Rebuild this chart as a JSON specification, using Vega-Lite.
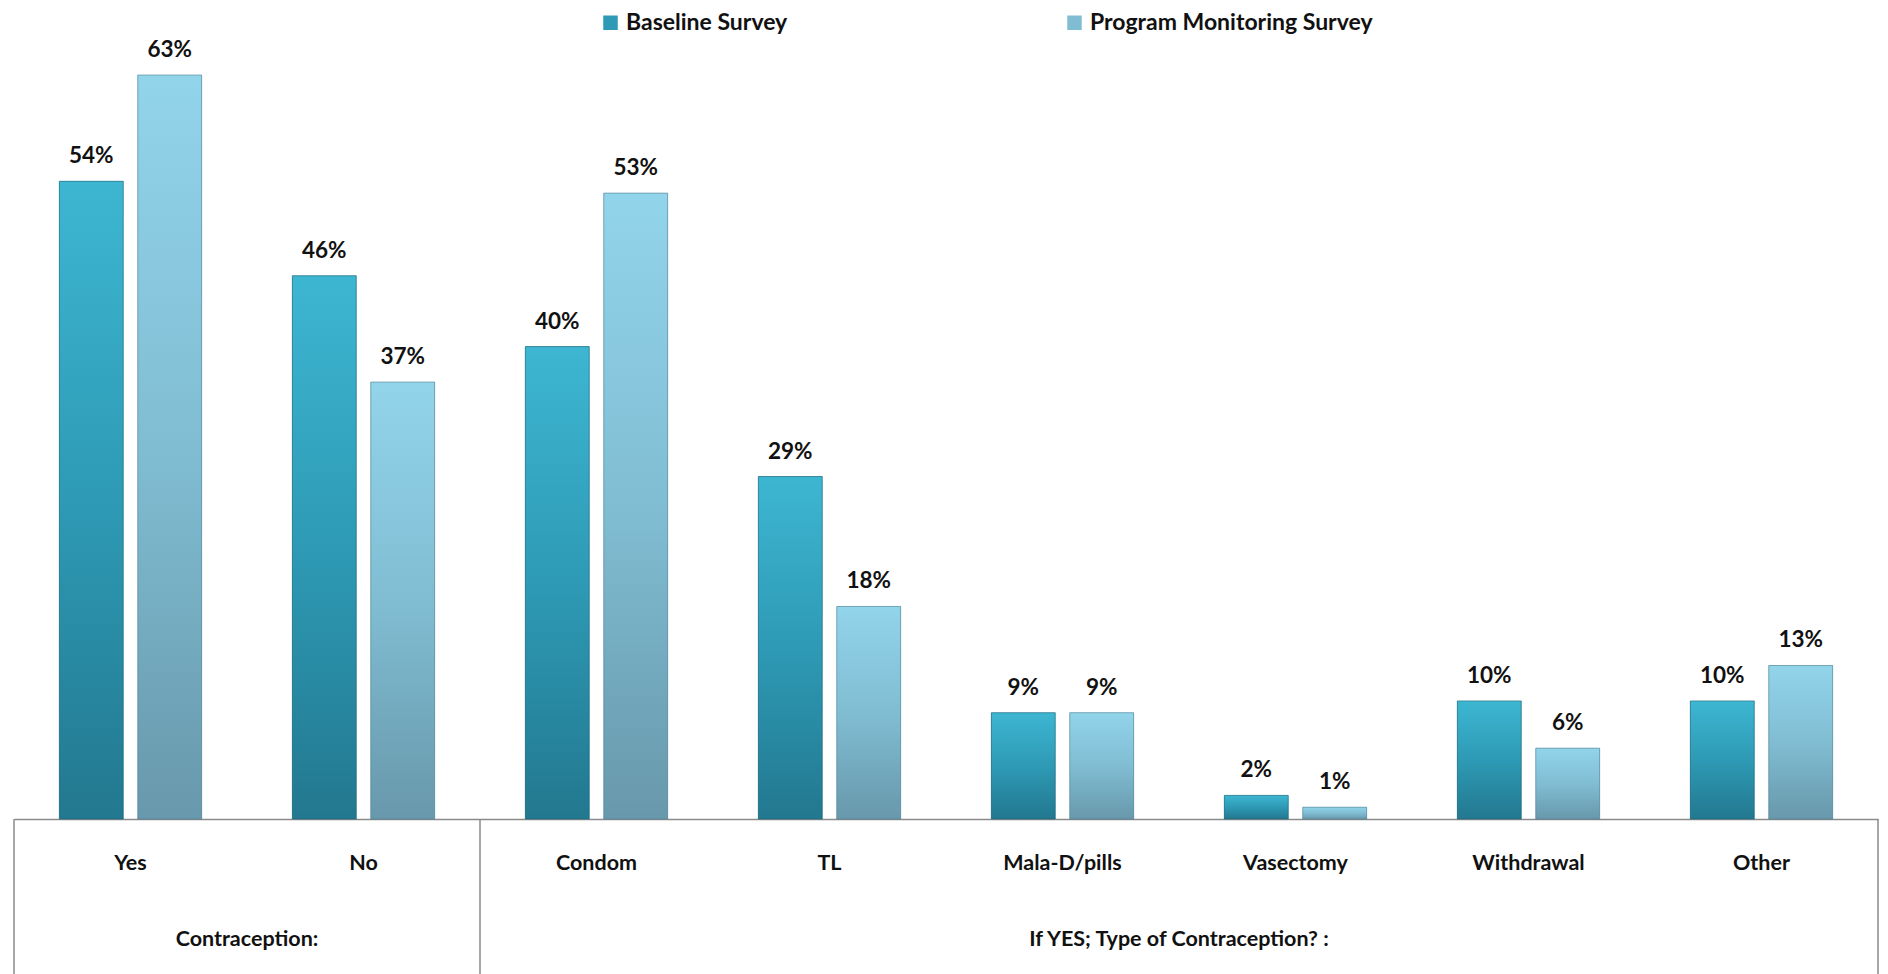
{
  "$schema": "https://vega.github.io/schema/vega-lite/v6.json",
  "autosize": "none",
  "width": 1864,
  "height": 819,
  "padding": {"left": 14, "top": 0, "right": 10, "bottom": 155},
  "background": "white",
  "config": {
    "view": {"stroke": null},
    "font": "Lato",
    "text": {"font": "Lato", "fontWeight": "bold", "fontSize": 22.5, "color": "#111111"}
  },
  "datasets": {
    "survey": [
      {"category": "Yes", "survey": "Baseline Survey", "share": 0.54},
      {"category": "Yes", "survey": "Program Monitoring Survey", "share": 0.63},
      {"category": "No", "survey": "Baseline Survey", "share": 0.46},
      {"category": "No", "survey": "Program Monitoring Survey", "share": 0.37},
      {"category": "Condom", "survey": "Baseline Survey", "share": 0.40},
      {"category": "Condom", "survey": "Program Monitoring Survey", "share": 0.53},
      {"category": "TL", "survey": "Baseline Survey", "share": 0.29},
      {"category": "TL", "survey": "Program Monitoring Survey", "share": 0.18},
      {"category": "Mala-D/pills", "survey": "Baseline Survey", "share": 0.09},
      {"category": "Mala-D/pills", "survey": "Program Monitoring Survey", "share": 0.09},
      {"category": "Vasectomy", "survey": "Baseline Survey", "share": 0.02},
      {"category": "Vasectomy", "survey": "Program Monitoring Survey", "share": 0.01},
      {"category": "Withdrawal", "survey": "Baseline Survey", "share": 0.10},
      {"category": "Withdrawal", "survey": "Program Monitoring Survey", "share": 0.06},
      {"category": "Other", "survey": "Baseline Survey", "share": 0.10},
      {"category": "Other", "survey": "Program Monitoring Survey", "share": 0.13}
    ],
    "groups": [
      {"category": "Yes", "group": "Contraception:"},
      {"category": "Mala-D/pills", "group": "If YES; Type of Contraception? :"}
    ],
    "leftEdges": [
      {"category": "Yes"},
      {"category": "Condom"}
    ],
    "rightEdges": [
      {"category": "Other"}
    ]
  },
  "layer": [
    {
      "data": {"name": "survey"},
      "mark": {"type": "bar"},
      "encoding": {
        "x": {
          "field": "category",
          "type": "nominal",
          "sort": null,
          "scale": {"paddingInner": 0, "paddingOuter": 0},
          "axis": {
            "title": null,
            "labelAngle": 0,
            "ticks": false,
            "domain": true,
            "domainColor": "#8a8a8a",
            "domainWidth": 1.5,
            "labelFont": "Lato",
            "labelFontWeight": "bold",
            "labelFontSize": 21.5,
            "labelColor": "#111111",
            "labelBaseline": "middle",
            "labelPadding": 44
          }
        },
        "xOffset": {
          "field": "survey",
          "type": "nominal",
          "scale": {"paddingInner": 0.185, "paddingOuter": 0.578}
        },
        "y": {
          "field": "share",
          "type": "quantitative",
          "scale": {"domain": [0, 0.6935], "nice": false, "zero": true},
          "axis": null
        },
        "color": {
          "field": "survey",
          "type": "nominal",
          "scale": {
            "domain": ["Baseline Survey", "Program Monitoring Survey"],
            "range": ["#2E9AB5", "#80BDD3"]
          },
          "legend": {
            "title": null,
            "orient": "none",
            "legendX": 585,
            "legendY": 11,
            "direction": "horizontal",
            "columns": 2,
            "columnPadding": 275,
            "symbolType": "square",
            "symbolSize": 210,
            "symbolStrokeWidth": 0,
            "labelFont": "Lato",
            "labelFontWeight": "bold",
            "labelFontSize": 23,
            "labelColor": "#111111",
            "labelOffset": 4,
            "labelLimit": 400,
            "padding": 0
          }
        }
      }
    },
    {
      "data": {"name": "survey"},
      "transform": [{"filter": "datum.survey === 'Baseline Survey'"}],
      "mark": {
        "type": "bar",
        "stroke": "#1d6476",
        "strokeOpacity": 0.6,
        "strokeWidth": 1,
        "color": {"gradient": "linear", "x1": 0, "y1": 0, "x2": 0, "y2": 1,
          "stops": [{"offset": 0, "color": "#3DB6D2"}, {"offset": 0.5, "color": "#2E9AB5"}, {"offset": 1, "color": "#22788F"}]}
      },
      "encoding": {
        "x": {"field": "category", "type": "nominal", "sort": null},
        "xOffset": {"field": "survey", "type": "nominal"},
        "y": {"field": "share", "type": "quantitative"}
      }
    },
    {
      "data": {"name": "survey"},
      "transform": [{"filter": "datum.survey === 'Program Monitoring Survey'"}],
      "mark": {
        "type": "bar",
        "stroke": "#4f8192",
        "strokeOpacity": 0.6,
        "strokeWidth": 1,
        "color": {"gradient": "linear", "x1": 0, "y1": 0, "x2": 0, "y2": 1,
          "stops": [{"offset": 0, "color": "#92D4EA"}, {"offset": 0.5, "color": "#80BDD3"}, {"offset": 1, "color": "#6898AB"}]}
      },
      "encoding": {
        "x": {"field": "category", "type": "nominal", "sort": null},
        "xOffset": {"field": "survey", "type": "nominal"},
        "y": {"field": "share", "type": "quantitative"}
      }
    },
    {
      "data": {"name": "survey"},
      "mark": {"type": "text", "baseline": "alphabetic", "dy": -18},
      "encoding": {
        "x": {"field": "category", "type": "nominal", "sort": null},
        "xOffset": {"field": "survey", "type": "nominal"},
        "y": {"field": "share", "type": "quantitative"},
        "text": {"field": "share", "type": "quantitative", "format": ".0%"}
      }
    },
    {
      "data": {"name": "groups"},
      "mark": {"type": "text", "baseline": "middle", "align": "center", "fontSize": 21.5},
      "encoding": {
        "x": {"field": "category", "type": "nominal", "sort": null, "bandPosition": 1},
        "y": {"datum": -0.1024, "type": "quantitative"},
        "text": {"field": "group", "type": "nominal"}
      }
    },
    {
      "data": {"name": "leftEdges"},
      "mark": {"type": "rule", "color": "#8a8a8a", "strokeWidth": 1.5},
      "encoding": {
        "x": {"field": "category", "type": "nominal", "sort": null, "bandPosition": 0},
        "y": {"datum": 0, "type": "quantitative"},
        "y2": {"datum": -0.132}
      }
    },
    {
      "data": {"name": "rightEdges"},
      "mark": {"type": "rule", "color": "#8a8a8a", "strokeWidth": 1.5},
      "encoding": {
        "x": {"field": "category", "type": "nominal", "sort": null, "bandPosition": 1},
        "y": {"datum": 0, "type": "quantitative"},
        "y2": {"datum": -0.132}
      }
    }
  ]
}
